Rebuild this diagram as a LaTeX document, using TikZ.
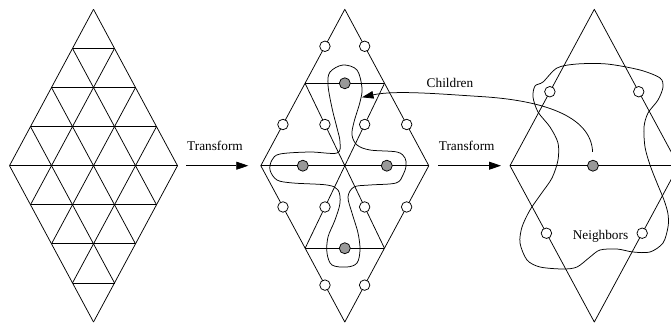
\documentclass[tikz,border=0pt]{standalone}
\usepackage{fontspec}
\setmainfont{Liberation Serif}
\usetikzlibrary{arrows.meta,calc}
\begin{document}
\begin{tikzpicture}[x=1pt,y=-1pt,
  ln/.style={line width=0.75pt, line join=round},
  wc/.style={circle, draw, line width=0.75pt, fill=white, inner sep=0pt, minimum size=10.5pt},
  gc/.style={circle, draw, line width=0.75pt, fill=black!40, inner sep=0pt, minimum size=11pt},
  arr/.style={ln, -{Triangle[length=12pt,width=8pt]}},
  lbl/.style={font=\fontsize{13.3}{15}\selectfont, inner sep=0pt, anchor=base}]
\useasboundingbox (0,0) rectangle (671,324);
\clip (0,0) rectangle (671,324);

% ---------- Diamond 1 : triangular lattice ----------
\coordinate (T1) at (93.5,9.3);
\coordinate (L1) at (9.5,165.7);
\coordinate (R1) at (177.5,165.7);
\coordinate (B1) at (93.5,322);
\foreach \k in {0,...,4} {
  \draw[ln] ($(T1)!\k/4!(L1)$) -- ($(R1)!\k/4!(B1)$);
  \draw[ln] ($(T1)!\k/4!(R1)$) -- ($(L1)!\k/4!(B1)$);
}
\foreach \s in {1,...,4} {
  \draw[ln] ($(T1)!\s/4!(L1)$) -- ($(T1)!\s/4!(R1)$);
}
\foreach \s in {1,...,3} {
  \draw[ln] ($(L1)!\s/4!(B1)$) -- ($(R1)!\s/4!(B1)$);
}

% ---------- Diamond 2 ----------
\coordinate (T2) at (344.8,9.3);
\coordinate (L2) at (260.8,165.7);
\coordinate (R2) at (428.8,165.7);
\coordinate (B2) at (344.8,322);
\coordinate (C2) at (344.8,165.7);
\coordinate (P1L) at ($(T2)!0.473!(L2)$);
\coordinate (P1R) at ($(T2)!0.473!(R2)$);
\coordinate (P3L) at ($(L2)!0.528!(B2)$);
\coordinate (P3R) at ($(R2)!0.528!(B2)$);
\draw[ln] (T2) -- (L2) -- (B2) -- (R2) -- cycle;
\draw[ln] (L2) -- (R2);
\draw[ln] (P1L) -- (P1R);
\draw[ln] (P1L) -- (C2) -- (P1R);
\draw[ln] (P3L) -- (P3R);
\draw[ln] (P3L) -- (C2) -- (P3R);

% four-lobed region
\draw[ln] plot[smooth cycle, tension=0.55] coordinates {
 (343,65) (357,70) (362,88) (360,102) (354,122) (352,135) (357,145) (370,150)
 (397,152) (405,158) (406,166) (403,175) (396,183) (370,185) (354,187) (348,197)
 (352,213) (358,233) (360,250) (357,263) (347,267) (332,265) (327,253) (328,237)
 (335,220) (340,203) (338,190) (327,185) (293,183) (277,180) (270,170) (272,160)
 (280,154) (310,152) (337,153) (340,142) (337,128) (332,108) (328,85) (330,72)};

\path (T2) -- (P1L) node[wc,pos=.5] (w1) {};
\path (T2) -- (P1R) node[wc,pos=.5] (w2) {};
\path (P1L) -- (L2) node[wc,pos=.5] (w3) {};
\path (P1L) -- (C2) node[wc,pos=.5] (w4) {};
\path (P1R) -- (C2) node[wc,pos=.5] (w5) {};
\path (P1R) -- (R2) node[wc,pos=.5] (w6) {};
\path (L2) -- (P3L) node[wc,pos=.5] (w7) {};
\path (C2) -- (P3L) node[wc,pos=.5] (w8) {};
\path (C2) -- (P3R) node[wc,pos=.5] (w9) {};
\path (R2) -- (P3R) node[wc,pos=.5] (w10) {};
\path (P3L) -- (B2) node[wc,pos=.5] (w11) {};
\path (P3R) -- (B2) node[wc,pos=.5] (w12) {};
\path (P1L) -- (P1R) node[gc,pos=.5] (g1) {};
\path (L2) -- (C2) node[gc,pos=.5] (g2) {};
\path (C2) -- (R2) node[gc,pos=.5] (g4) {};
\path (P3L) -- (P3R) node[gc,pos=.5] (g5) {};

% ---------- Diamond 3 ----------
\coordinate (T3) at (594.3,9.3);
\coordinate (L3) at (510,165.7);
\coordinate (R3) at (678.6,165.7);
\coordinate (B3) at (594.3,322);
\draw[ln] (T3) -- (L3) -- (B3) -- (R3) -- cycle;
\draw[ln] (L3) -- (R3);

\draw[ln] plot[smooth cycle, tension=0.5] coordinates {
 (543,82) (557,68) (577,64) (607,64) (640,70) (660,78) (663,87) (658,100)
 (648,113) (644,127) (645,147) (650,165) (657,183) (664,200) (668,214) (668,227)
 (663,243) (650,252) (633,252) (617,249) (600,250) (590,257) (577,267) (563,269)
 (540,267) (527,260) (520,243) (522,227) (530,210) (541,194) (552,178) (558,160)
 (558,143) (550,127) (538,112) (533,97) (535,86)};

\path (T3) -- (L3) node[wc,pos=.527] (n1) {};
\path (T3) -- (R3) node[wc,pos=.527] (n2) {};
\path (L3) -- (B3) node[wc,pos=.432] (n3) {};
\path (R3) -- (B3) node[wc,pos=.432] (n4) {};
\path (L3) -- (R3) node[gc,pos=.492] (g3) {};

% ---------- arrows and labels ----------
\draw[arr, shorten <=8.5pt, shorten >=12.5pt] (R1) -- (L2);
\draw[arr, shorten <=9.5pt, shorten >=9pt] (R2) -- (L3);
\node[lbl] (t1) at (215,150) {Transform};
\node[lbl] (t2) at (466.7,150) {Transform};

\coordinate (ctip) at (362,97.3);
\draw[ln, -{Triangle[length=11.5pt,width=7.5pt]}, shorten <=8pt]
  (g3.north) .. controls (591,115) and (540,100) .. (480,96.5)
  .. controls (440,94) and (395,90) .. (ctip);
\node[lbl] (ch) at (450,87.7) {Children};
\node[lbl] (nb) at (600.5,239) {Neighbors};
\end{tikzpicture}
\end{document}
